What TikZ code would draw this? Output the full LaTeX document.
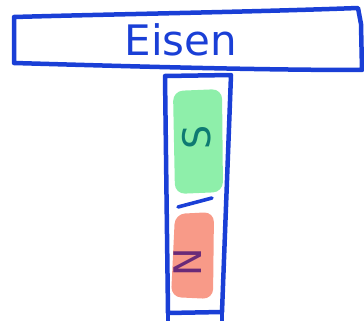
\documentclass[tikz,border=0pt]{standalone}
\usepackage{fontspec}
\setmainfont{DejaVu Sans}
\definecolor{ink}{HTML}{1A3FD6}
\definecolor{greenfill}{HTML}{8EEFAA}
\definecolor{redfill}{HTML}{F89A88}
\definecolor{tealink}{HTML}{0E7A72}
\definecolor{purpleink}{HTML}{6A2A78}
\tikzset{
  pen/.style={draw=ink, line width=4.5pt, line join=round, line cap=round},
  blob/.style={rounded corners=10pt},
  letter/.style={font=\fontsize{38}{38}\selectfont, rotate=90, inner sep=0pt}
}
\begin{document}
\begin{tikzpicture}[x=1pt,y=-1pt]
\useasboundingbox (0,0) rectangle (364,321);
% colour blobs
\fill[greenfill, blob] (173,91) -- (222,89) -- (223,192) -- (175,194) -- cycle;
\fill[redfill, blob] (175,214) -- (214,212) -- (213,299) -- (171,297) -- cycle;
% top box
\draw[pen] (14,17) .. controls (120,14) and (250,12) .. (358,8)
  -- (361,24) -- (362,70)
  .. controls (250,70) and (120,66) .. (14,63) -- cycle;
\node[text=ink, font=\fontsize{42}{42}\selectfont] (eisen) at (181,40) {Eisen};
% vertical box
\draw[pen] (165,76) -- (231,75) -- (222,312) -- (168,313) -- cycle;
\draw[pen] (168,313) -- (168,321);
\draw[pen] (222,312) -- (222,321);
% letters
\node[letter, text=tealink] (s) at (197,137) {S};
\draw[ink, line width=3.6pt, line cap=round] (178,207) -- (212,198);
\node[letter, text=purpleink] (n) at (188,262) {N};
\end{tikzpicture}
\end{document}
